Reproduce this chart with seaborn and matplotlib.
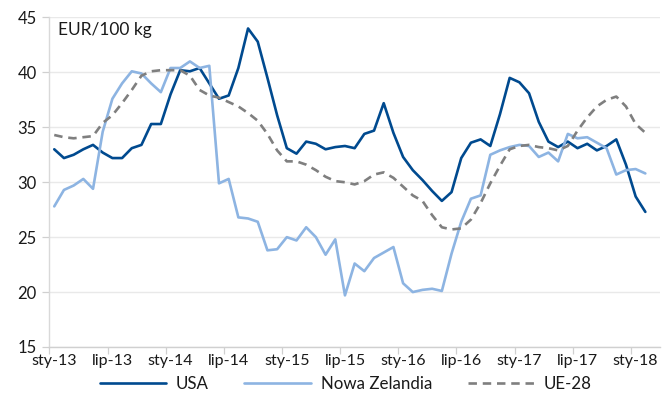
import matplotlib
matplotlib.use("Agg")
import matplotlib.pyplot as plt
from matplotlib import font_manager
from matplotlib.ticker import FixedLocator, NullFormatter
import numpy as np
import pandas as pd
import seaborn as sns

# Monthly prices, EUR/100 kg, Jan 2013 - Feb 2018
usa = [33.0, 32.2, 32.5, 33.0, 33.4, 32.7, 32.2, 32.2, 33.1, 33.4,
       35.3, 35.3, 38.0, 40.2, 40.1, 40.4, 39.0, 37.6, 37.9, 40.4,
       44.0, 42.8, 39.5, 36.1, 33.1, 32.6, 33.7, 33.5, 33.0, 33.2,
       33.3, 33.1, 34.4, 34.7, 37.2, 34.5, 32.3, 31.1, 30.2, 29.2,
       28.3, 29.1, 32.2, 33.6, 33.9, 33.3, 36.2, 39.5, 39.1, 38.1,
       35.5, 33.7, 33.2, 33.7, 33.1, 33.5, 32.9, 33.3, 33.9, 31.6,
       28.7, 27.3]
nowa_zelandia = [27.8, 29.3, 29.7, 30.3, 29.4, 34.6, 37.6, 39.0, 40.1, 39.9,
                 39.0, 38.2, 40.4, 40.4, 41.0, 40.4, 40.6, 29.9, 30.3, 26.8,
                 26.7, 26.4, 23.8, 23.9, 25.0, 24.7, 25.9, 25.0, 23.4, 24.8,
                 19.7, 22.6, 21.9, 23.1, 23.6, 24.1, 20.8, 20.0, 20.2, 20.3,
                 20.1, 23.5, 26.4, 28.5, 28.8, 32.5, 32.9, 33.2, 33.4, 33.3,
                 32.3, 32.7, 31.9, 34.4, 34.0, 34.1, 33.6, 33.1, 30.7, 31.1,
                 31.2, 30.8]
ue28 = [34.3, 34.1, 34.0, 34.1, 34.2, 35.4, 36.1, 37.2, 38.4, 39.7,
        40.1, 40.2, 40.2, 40.2, 39.7, 38.4, 37.9, 37.7, 37.3, 36.9,
        36.3, 35.6, 34.4, 32.9, 31.9, 31.9, 31.6, 31.1, 30.5, 30.1,
        30.0, 29.8, 30.1, 30.7, 30.9, 30.4, 29.6, 28.8, 28.3, 27.0,
        25.9, 25.7, 25.8, 26.6, 28.1, 29.9, 31.5, 33.0, 33.3, 33.4,
        33.2, 33.1, 32.9, 33.3, 34.7, 35.9, 36.9, 37.5, 37.8, 36.9,
        35.3, 34.5]
tick_labels = ["sty-13", "lip-13", "sty-14", "lip-14", "sty-15", "lip-15",
               "sty-16", "lip-16", "sty-17", "lip-17", "sty-18"]
series_names = ["USA", "Nowa Zelandia", "UE-28"]

sns.set_theme(style="white")
available = {f.name for f in font_manager.fontManager.ttflist}
base_font = "Lato" if "Lato" in available else "DejaVu Sans"
plt.rcParams["font.family"] = [base_font, "DejaVu Sans"]

text_color = "#1a1a1a"
grid_color = "#e9e9e9"
colors = {"USA": "#004a8f", "Nowa Zelandia": "#8db4e2", "UE-28": "#7f7f7f"}
ue_dash = (3.2, 2.2)

months = np.arange(len(usa))
df = pd.DataFrame({"month": np.tile(months, 3),
                   "price": usa + nowa_zelandia + ue28,
                   "series": np.repeat(series_names, len(usa))})

fig = plt.figure(figsize=(6.65, 4.01), dpi=100)
ax = fig.add_axes([0.0743, 0.1347, 0.918, 0.8217])

sns.lineplot(data=df, x="month", y="price", hue="series", style="series",
             hue_order=series_names, style_order=series_names,
             palette=colors,
             dashes={"USA": "", "Nowa Zelandia": "", "UE-28": ue_dash},
             linewidth=1.9, ax=ax, legend=False)

ax.set_xlim(-0.5, 62.5)
ax.set_ylim(15, 45)
ax.set_yticks(np.arange(15, 46, 5))
ax.yaxis.grid(True, color=grid_color, linewidth=1.0)
ax.xaxis.grid(False)
ax.set_axisbelow(True)

# tick marks on category boundaries, labels centred on the month
label_pos = np.arange(0, len(usa), 6)
ax.xaxis.set_major_locator(FixedLocator(label_pos - 0.5))
ax.xaxis.set_major_formatter(NullFormatter())
ax.xaxis.set_minor_locator(FixedLocator(label_pos))
ax.set_xticklabels(tick_labels, minor=True)
ax.tick_params(axis="x", which="major", length=5, width=0.9, color="#d0d0d0",
               bottom=True, direction="out")
ax.tick_params(axis="x", which="minor", length=0, pad=5, labelsize=11.5,
               labelcolor=text_color)
ax.tick_params(axis="y", length=5, width=0.9, color="#d0d0d0", left=True,
               labelsize=12, labelcolor=text_color, pad=4)

for side in ("top", "right"):
    ax.spines[side].set_visible(False)
ax.spines["left"].set_color("#d9d9d9")
ax.spines["bottom"].set_color("#d0d0d0")
ax.spines["left"].set_linewidth(1.0)
ax.spines["bottom"].set_linewidth(1.0)

ax.set_xlabel("")
ax.set_ylabel("")
ax.text(0.014, 0.985, "EUR/100 kg", transform=ax.transAxes, ha="left",
        va="top", fontsize=12.5, color=text_color)

handles = [plt.Line2D([], [], color=colors["USA"], lw=1.9),
           plt.Line2D([], [], color=colors["Nowa Zelandia"], lw=1.9),
           plt.Line2D([], [], color=colors["UE-28"], lw=1.9, dashes=ue_dash)]
fig.legend(handles, series_names, loc="center", bbox_to_anchor=(0.52, 0.043),
           ncol=3, frameon=False, handlelength=3.9, columnspacing=2.1,
           handletextpad=0.6, fontsize=12.2, labelcolor=text_color)

fig.savefig("out.png", dpi=100)
